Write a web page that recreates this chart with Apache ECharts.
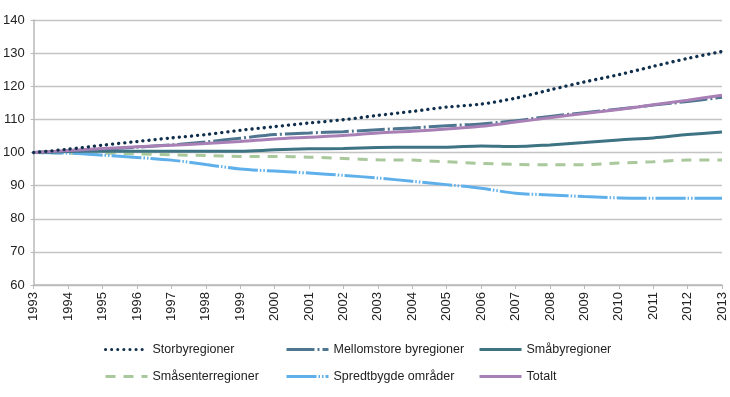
<!DOCTYPE html>
<html lang="no">
<head>
<meta charset="UTF-8">
<title>Befolkningsutvikling</title>
<script src="https://cdn.jsdelivr.net/npm/echarts@6/dist/echarts.min.js"></script>
<style>
  html, body { margin: 0; padding: 0; background: #fff; }
</style>
</head>
<body>
<div id="main" style="width: 730px; height: 397px;"></div>
<script>
var years = ['1993', '1994', '1995', '1996', '1997', '1998', '1999', '2000', '2001', '2002', '2003',
    '2004', '2005', '2006', '2007', '2008', '2009', '2010', '2011', '2012', '2013'];

var storby = [100, 101, 102.2, 103.3, 104.4, 105.4, 106.7, 107.8, 108.9, 109.9, 111.2,
    112.4, 113.7, 114.6, 116.4, 118.9, 121.3, 123.5, 126, 128.4, 130.5];
var mellomstore = [100, 100.4, 101, 101.6, 102.3, 103.2, 104.3, 105.4, 105.9, 106.3, 106.9,
    107.4, 108.1, 108.6, 109.6, 110.9, 112, 113.1, 114.3, 115.4, 116.7];
var smaby = [100, 100.3, 100.4, 100.4, 100.4, 100.4, 100.4, 100.8, 101.1, 101.2, 101.5,
    101.6, 101.6, 102, 101.8, 102.3, 103, 103.8, 104.4, 105.4, 106.2];
var smasenter = [100, 99.8, 99.8, 99.6, 99.3, 99.1, 98.8, 98.8, 98.6, 98.2, 97.8,
    97.7, 97.2, 96.7, 96.4, 96.3, 96.3, 96.8, 97.2, 97.7, 97.7];
var spredt = [100, 99.8, 99.2, 98.5, 97.7, 96.4, 95, 94.4, 93.8, 93.1, 92.3,
    91.3, 90.3, 89.2, 87.7, 87.2, 86.7, 86.3, 86.2, 86.2, 86.2];
var totalt = [100, 100.6, 101.2, 101.7, 102.2, 102.7, 103.3, 104.1, 104.6, 105.1, 105.9,
    106.4, 107.1, 107.9, 109.2, 110.5, 111.8, 113, 114.4, 115.8, 117.3];

var names = ['Storbyregioner', 'Mellomstore byregioner', 'Småbyregioner',
    'Småsenterregioner', 'Spredtbygde områder', 'Totalt'];

let chart = echarts.init(document.getElementById('main'));

function line(name, data, color, dash, cap, width) {
    return {
        type: 'line',
        name: name,
        data: data,
        symbol: 'none',
        animation: false,
        smooth: 0.3,
        lineStyle: { color: color, width: width || 3, type: dash, cap: cap || 'butt' },
        itemStyle: { color: color }
    };
}

// one legend per item so they sit in the same 3x2 layout as the original
var legendPos = [[99, 338], [280, 338], [473, 338], [99, 365], [280, 365], [473, 365]];
var legends = names.map(function (n, i) {
    return {
        data: [n],
        left: legendPos[i][0],
        top: legendPos[i][1],
        itemWidth: 42,
        itemHeight: 14,
        itemStyle: { opacity: 0 },
        lineStyle: { width: 3 },
        textStyle: { fontFamily: 'Liberation Sans', fontSize: 12.5, color: '#222' }
    };
});

var option = {
    backgroundColor: '#fff',
    legend: legends,
    grid: { left: 32, right: 8, top: 20, bottom: 112 },
    xAxis: {
        type: 'category',
        data: years,
        boundaryGap: false,
        axisLine: { lineStyle: { color: '#b8b8b8', width: 1.5 } },
        axisTick: { show: true, length: 4, interval: 0, lineStyle: { color: '#b8b8b8' } },
        axisLabel: {
            interval: 0, rotate: 90, margin: 7,
            fontFamily: 'Liberation Sans', fontSize: 13, color: '#222'
        }
    },
    yAxis: {
        type: 'value',
        min: 60, max: 140, interval: 10,
        axisLine: { show: true, lineStyle: { color: '#b8b8b8', width: 1.5 } },
        axisTick: { show: true, length: 3, lineStyle: { color: '#b8b8b8' } },
        splitLine: { lineStyle: { color: '#c4c4c4', width: 1.3 } },
        axisLabel: { margin: 9, fontFamily: 'Liberation Sans', fontSize: 13, color: '#222' }
    },
    series: [
        line(names[3], smasenter, '#a9c89c', [10, 8]),
        line(names[4], spredt, '#5fb0ea', [30, 2, 1.5, 2, 1.5, 2]),
        line(names[2], smaby, '#3d7383'),
        line(names[1], mellomstore, '#4f7690', [28, 3, 2, 3]),
        line(names[5], totalt, '#a880b6'),
        line(names[0], storby, '#0f2f4c', [0.1, 6], 'round', 3.3)
    ]
};
chart.setOption(option);
</script>
</body>
</html>
